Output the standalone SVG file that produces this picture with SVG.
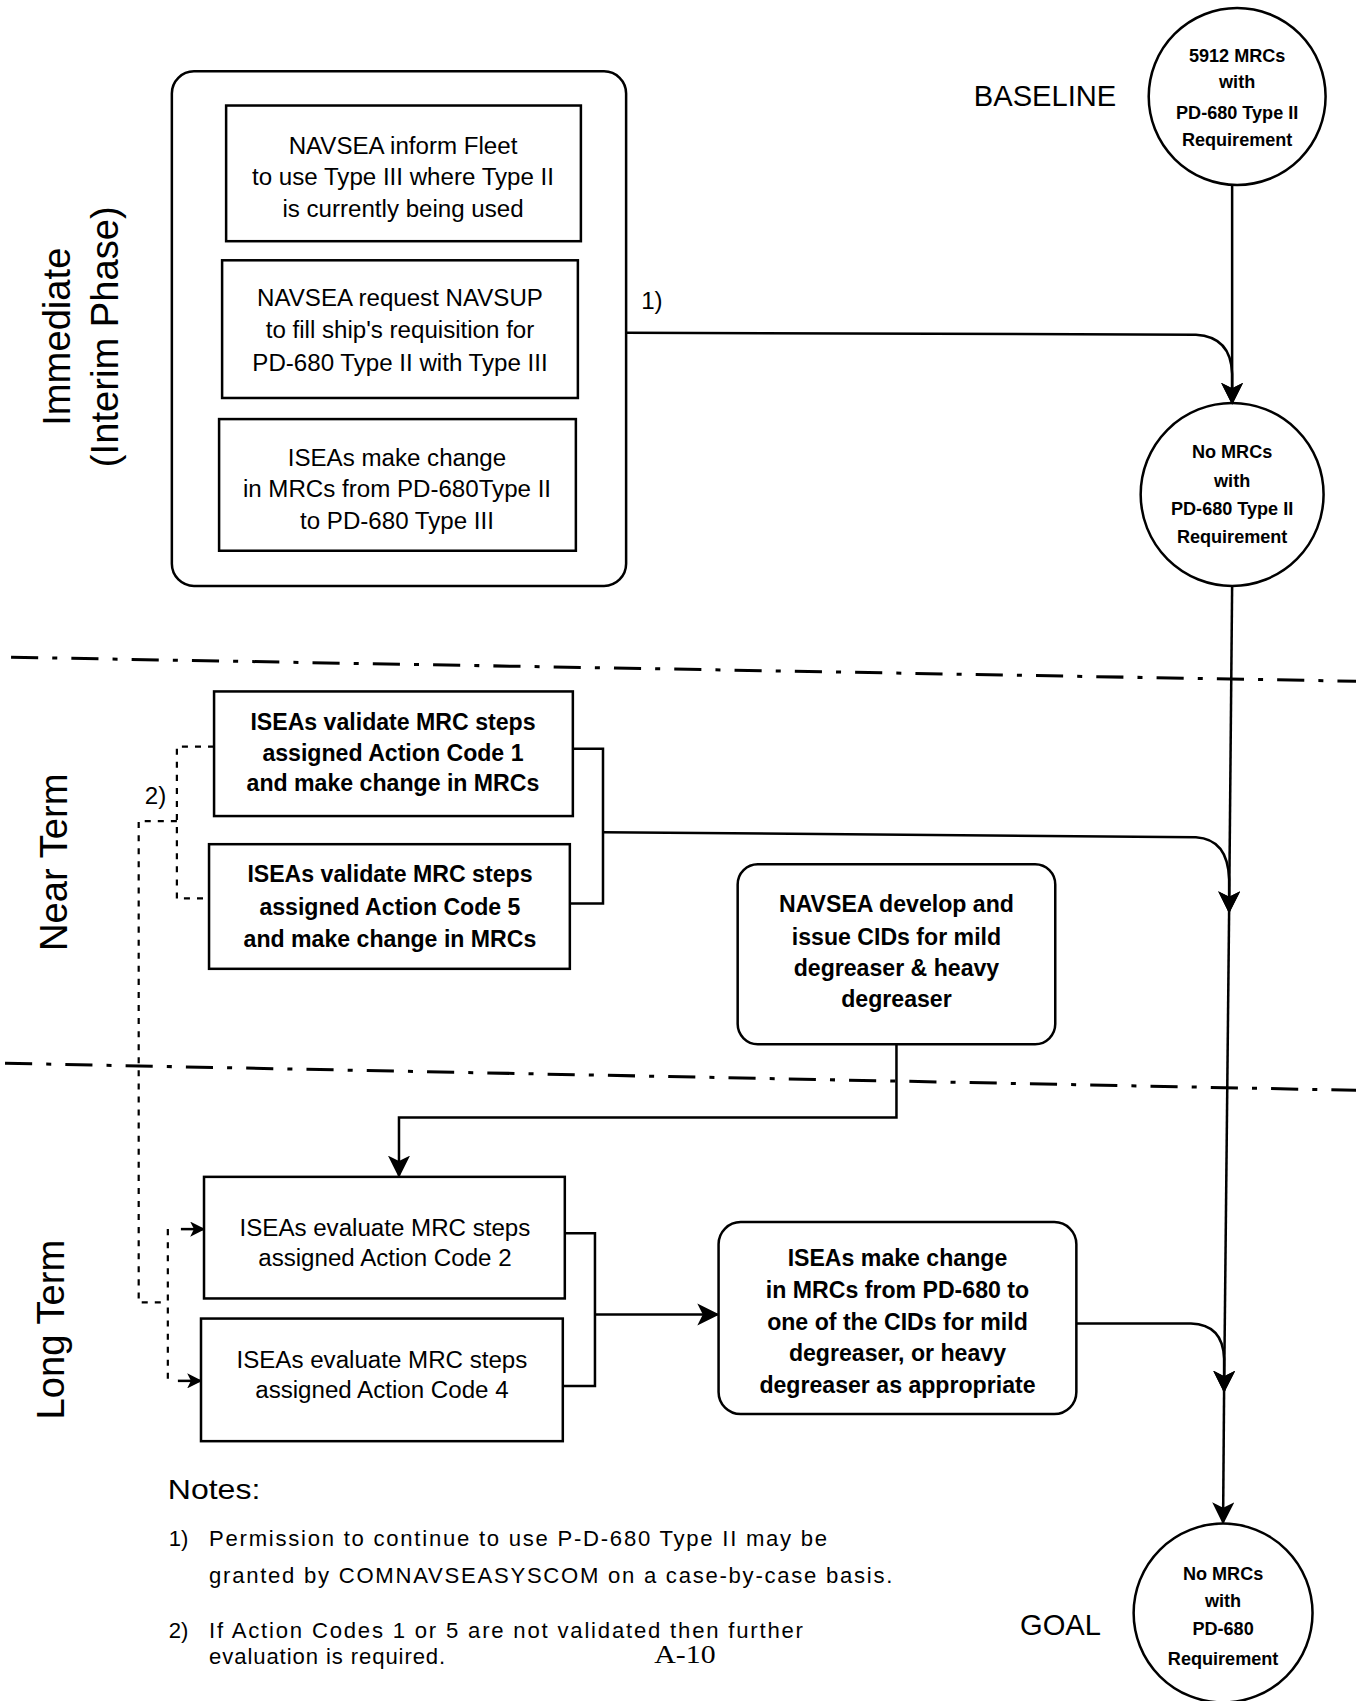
<svg xmlns="http://www.w3.org/2000/svg" width="1356" height="1701" viewBox="0 0 1356 1701">
<style>
.bx{fill:none;stroke:#000;stroke-width:2.5}
.ln{fill:none;stroke:#000;stroke-width:2.5}
.dd{fill:none;stroke:#000;stroke-width:3;stroke-dasharray:27 14 5 14}
.dt{fill:none;stroke:#000;stroke-width:2.2;stroke-dasharray:6 7}
text{font-family:"Liberation Sans",Arial,sans-serif;fill:#000}
.t{font-size:24px;text-anchor:middle}
.tb{font-size:23px;text-anchor:middle;font-weight:bold}
.c{font-size:18px;text-anchor:middle;font-weight:bold}
.ph{font-size:38px;text-anchor:middle}
.lb{font-size:29px}
.n{font-size:22px}
</style>
<defs>
<marker id="ah" viewBox="0 0 12 12" refX="11" refY="6" markerWidth="15" markerHeight="15" markerUnits="userSpaceOnUse" orient="auto">
<path d="M0,0 L12,6 L0,12 L3,6 z" fill="#000"/>
</marker>
<marker id="ab" viewBox="0 0 12 12" refX="11" refY="6" markerWidth="22" markerHeight="22" markerUnits="userSpaceOnUse" orient="auto">
<path d="M0,0 L12,6 L0,12 L3,6 z" fill="#000"/>
</marker>
</defs>
<g id="diagram" transform="scale(1.005)">

<!-- phase separators -->
<g id="separators">
<path class="dd" d="M11,654 L1356,678"/>
<path class="dd" d="M5,1058 L1356,1085"/>
</g>

<!-- phase labels -->
<g id="phase-labels">
<text class="ph" transform="translate(70,335) rotate(-90)">Immediate</text>
<text class="ph" transform="translate(117,335) rotate(-90)">(Interim Phase)</text>
<text class="ph" transform="translate(67,858) rotate(-90)">Near Term</text>
<text class="ph" transform="translate(64,1323) rotate(-90)">Long Term</text>
</g>

<!-- connectors -->
<g id="connectors">
<path class="ln" d="M1226,184 L1226,401" marker-end="url(#ab)"/>
<path class="ln" d="M623,331 L1190,333 Q1225,335 1226,372 L1226,401" marker-end="url(#ab)"/>
<path class="ln" d="M1226,583 L1223,907" marker-end="url(#ab)"/>
<path class="ln" d="M570,745 L600,745 L600,899 L567,899"/>
<path class="ln" d="M600,828 L1190,833 Q1222,835 1223,875 L1223,907" marker-end="url(#ab)"/>
<path class="ln" d="M1223,907 L1218,1384" marker-end="url(#ab)"/>
<path class="ln" d="M1218,1384 L1217,1515" marker-end="url(#ab)"/>
<path class="ln" d="M892,1039 L892,1112 L397,1112 L397,1170" marker-end="url(#ab)"/>
<path class="ln" d="M562,1227 L592,1227 L592,1379 L560,1379"/>
<path class="ln" d="M592,1308 L714,1308" marker-end="url(#ab)"/>
<path class="ln" d="M1071,1317 L1185,1317 Q1217,1318 1218,1352 L1218,1384" marker-end="url(#ab)"/>
<path class="dt" d="M213,743 L176,743 L176,894 L208,894"/>
<path class="dt" d="M176,817 L138,817 L138,1296 L167,1296"/>
<path class="dt" d="M167,1223 L167,1374"/>
<path class="ln" d="M180,1223 L203,1223" stroke-width="2" marker-end="url(#ah)"/>
<path class="ln" d="M177,1374 L200,1374" stroke-width="2" marker-end="url(#ah)"/>
<text x="638" y="307" style="font-size:24px">1)</text>
<text x="144" y="800" style="font-size:24px">2)</text>
</g>

<!-- Immediate group -->
<g id="immediate-group">
<rect class="bx" x="171" y="71" width="452" height="512" rx="22"/>
</g>
<g id="n-inform-fleet">
<rect class="bx" x="225" y="105" width="353" height="135"/>
<text class="t" x="401" y="153">NAVSEA inform Fleet</text>
<text class="t" x="401" y="184">to use Type III where Type II</text>
<text class="t" x="401" y="216">is currently being used</text>
</g>
<g id="n-request-navsup">
<rect class="bx" x="221" y="259" width="354" height="137"/>
<text class="t" x="398" y="304">NAVSEA request NAVSUP</text>
<text class="t" x="398" y="336">to fill ship's requisition for</text>
<text class="t" x="398" y="369">PD-680 Type II with Type III</text>
</g>
<g id="n-isea-change-1">
<rect class="bx" x="218" y="417" width="355" height="131"/>
<text class="t" x="395" y="464">ISEAs make change</text>
<text class="t" x="395" y="495">in MRCs from PD-680Type II</text>
<text class="t" x="395" y="526">to PD-680 Type III</text>
</g>

<!-- Near term -->
<g id="n-validate-1">
<rect class="bx" x="213" y="688" width="357" height="124"/>
<text class="tb" x="391" y="726">ISEAs validate MRC steps</text>
<text class="tb" x="391" y="757">assigned Action Code 1</text>
<text class="tb" x="391" y="787">and make change in MRCs</text>
</g>
<g id="n-validate-5">
<rect class="bx" x="208" y="840" width="359" height="124"/>
<text class="tb" x="388" y="878">ISEAs validate MRC steps</text>
<text class="tb" x="388" y="910">assigned Action Code 5</text>
<text class="tb" x="388" y="942">and make change in MRCs</text>
</g>
<g id="n-cids">
<rect class="bx" x="734" y="860" width="316" height="179" rx="20"/>
<text class="tb" x="892" y="907">NAVSEA develop and</text>
<text class="tb" x="892" y="940">issue CIDs for mild</text>
<text class="tb" x="892" y="971">degreaser &amp; heavy</text>
<text class="tb" x="892" y="1002">degreaser</text>
</g>

<!-- Long term -->
<g id="n-evaluate-2">
<rect class="bx" x="203" y="1171" width="359" height="121"/>
<text class="t" x="383" y="1230">ISEAs evaluate MRC steps</text>
<text class="t" x="383" y="1260">assigned Action Code 2</text>
</g>
<g id="n-evaluate-4">
<rect class="bx" x="200" y="1312" width="360" height="122"/>
<text class="t" x="380" y="1361">ISEAs evaluate MRC steps</text>
<text class="t" x="380" y="1391">assigned Action Code 4</text>
</g>
<g id="n-isea-change-2">
<rect class="bx" x="715" y="1216" width="356" height="191" rx="22"/>
<text class="tb" x="893" y="1260">ISEAs make change</text>
<text class="tb" x="893" y="1292">in MRCs from PD-680 to</text>
<text class="tb" x="893" y="1323">one of the CIDs for mild</text>
<text class="tb" x="893" y="1354">degreaser, or heavy</text>
<text class="tb" x="893" y="1386">degreaser as appropriate</text>
</g>

<!-- circles -->
<g id="n-baseline">
<circle class="bx" cx="1231" cy="96" r="88"/>
<text class="c" x="1231" y="62">5912 MRCs</text>
<text class="c" x="1231" y="88">with</text>
<text class="c" x="1231" y="118">PD-680 Type II</text>
<text class="c" x="1231" y="145">Requirement</text>
<text class="lb" x="969" y="105">BASELINE</text>
</g>
<g id="n-interim">
<circle class="bx" cx="1226" cy="492" r="91"/>
<text class="c" x="1226" y="456">No MRCs</text>
<text class="c" x="1226" y="485">with</text>
<text class="c" x="1226" y="512">PD-680 Type II</text>
<text class="c" x="1226" y="540">Requirement</text>
</g>
<g id="n-goal">
<circle class="bx" cx="1217" cy="1605" r="89"/>
<text class="c" x="1217" y="1572">No MRCs</text>
<text class="c" x="1217" y="1599">with</text>
<text class="c" x="1217" y="1627">PD-680</text>
<text class="c" x="1217" y="1657">Requirement</text>
<text class="lb" x="1015" y="1627">GOAL</text>
</g>

<!-- notes -->
<g id="notes">
<text x="167" y="1492" style="font-size:27px" textLength="92" lengthAdjust="spacingAndGlyphs">Notes:</text>
<text class="n" x="168" y="1538">1)</text>
<text class="n" x="208" y="1538" textLength="615" lengthAdjust="spacing">Permission to continue to use P-D-680 Type II may be</text>
<text class="n" x="208" y="1575" textLength="680" lengthAdjust="spacing">granted by COMNAVSEASYSCOM on a case-by-case basis.</text>
<text class="n" x="168" y="1630">2)</text>
<text class="n" x="208" y="1630" textLength="591" lengthAdjust="spacing">If Action Codes 1 or 5 are not validated then further</text>
<text class="n" x="208" y="1656" textLength="235" lengthAdjust="spacing">evaluation is required.</text>
<text x="651" y="1655" style="font-family:'Liberation Serif','Times New Roman',serif;font-size:26px" textLength="61" lengthAdjust="spacingAndGlyphs">A-10</text>
</g>
</g>
</svg>
